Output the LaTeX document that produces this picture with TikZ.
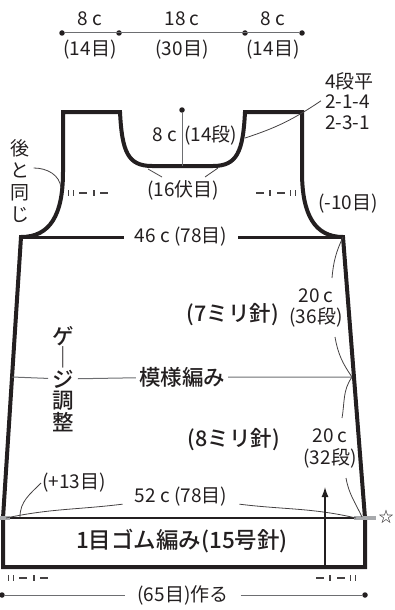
\documentclass[tikz,border=0pt]{standalone}
\usepackage{fontspec}
\setmainfont{Noto Sans CJK JP}[BoldFont = {Noto Sans CJK JP Medium}]
\usetikzlibrary{positioning, arrows.meta}

\definecolor{ink}{HTML}{231F20}
\definecolor{dimgray}{HTML}{6D6E71}
\definecolor{markgray}{HTML}{A7A9AC}

\tikzset{
	lbl/.style = {font = \fontsize{19}{21}\selectfont, inner sep = 1pt, text = ink},
	bold/.style = {font = \fontsize{21.5}{21.5}\selectfont\bfseries, inner sep = 2pt, text = ink},
	outline/.style = {line width = 4pt, ink, line join = miter},
	leader/.style = {line width = 0.8pt, ink!85},
	dimline/.style = {line width = 1pt, dimgray},
	dot/.style = {circle, fill = ink, inner sep = 0pt, minimum size = 5.5pt},
	tick/.style = {line width = 1.3pt, ink!85},
	marksL/.pic = {
		\foreach \t in {0.5, 5.5, 26} \draw [tick] (\t, -3) -- (\t, 3);
		\foreach \d in {11, 32} \draw [tick] (\d, 0) -- (\d + 8, 0);
	},
	marksR/.pic = {
		\foreach \t in {14, 34.5, 39.5} \draw [tick] (\t, -3) -- (\t, 3);
		\foreach \d in {0, 21} \draw [tick] (\d, 0) -- (\d + 8, 0);
	}
}

\begin{document}
\begin{tikzpicture}[> = {Latex[length = 10pt, width = 7pt]}, x = 1pt, y = -1pt]

	\useasboundingbox (0, 0) rectangle (394, 610);

	% Top widths

	\foreach \n/\x in {0/62, 1/119, 2/245, 3/302}
		\node [dot] (t\n) at (\x, 33) {};
	\draw [dimline] (t0) -- (t3);
	\foreach \x/\w/\s [count = \i] in {90/{8 c}/{(14目)}, 182/{18 c}/{(30目)}, 273/{8 c}/{(14目)}} {
		\node [lbl] (w\i) at (\x, 19) {\w};
		\node [lbl] (s\i) at (\x, 50) {\s};
	}

	% Outline points

	\coordinate (shL) at (63, 112);
	\coordinate (nkL) at (120, 112);
	\coordinate (nkR) at (245, 112);
	\coordinate (shR) at (302, 112);
	\coordinate (ahR) at (302, 172);
	\coordinate (cnR) at (343, 237);
	\coordinate (rbR) at (365, 518);
	\coordinate (hmR) at (365, 567);
	\coordinate (hmL) at (3, 567);
	\coordinate (rbL) at (3, 518);
	\coordinate (cnL) at (21, 237);
	\coordinate (ahL) at (63, 172);

	% Body

	\draw [outline] (shL) -- (nkL) .. controls (122, 152) and (128, 166) .. (152, 166) -- (213, 166)
		.. controls (237, 166) and (243, 152) .. (nkR) -- (shR) -- (ahR)
		.. controls (302, 215) and (315, 237) .. (cnR) -- (rbR) -- (hmR) -- (hmL) -- (rbL) -- (cnL)
		.. controls (50, 237) and (63, 215) .. (ahL) -- cycle;
	\draw [line width = 2.5pt, ink] (rbL) -- (rbR);
	\draw [line width = 4pt, markgray] (0, 518) -- (10, 518);
	\draw [line width = 4pt, markgray] (354, 518) -- (376, 518);
	\node [font = \fontsize{15}{15}\selectfont, text = ink, inner sep = 0pt] (star) at (386, 517) {☆};

	% Neck

	\node [dot] (nkDot) at (182, 110) {};
	\coordinate (nkBase) at (182, 166);
	\coordinate (nkMid) at (182, 135);
	\draw [dimline, line width = 0.8pt] (nkDot) -- (nkBase);
	\node [lbl, left = 4pt of nkMid] (nkCm) {8 c};
	\node [lbl, right = 1pt of nkMid] (nkRows) {(14段)};
	\node [lbl] (bind) at (183, 190) {(16伏目)};
	\coordinate (bo1) at (148, 169);
	\coordinate (bo1e) at (162, 177);
	\coordinate (bo2) at (218, 168);
	\coordinate (bo2e) at (205, 177);
	\draw [leader] (bo1) -- (bo1e);
	\draw [leader] (bo2) -- (bo2e);

	\node [lbl, align = left, anchor = north west, font = \fontsize{19}{20.5}\selectfont] (dec) at (324, 71) {4段平\\2-1-4\\2-3-1};
	\coordinate (nkPt) at (245, 138);
	\draw [leader] (nkPt) to [out = 18, in = -146] ([xshift = -3pt] dec.west);

	% Armholes

	\node [lbl, align = center, font = \fontsize{19}{22}\selectfont] (same) at (20, 181) {後\\と\\同\\じ};
	\coordinate (ahPt) at (61, 188);
	\draw [leader] ([shift = {(3pt, 13pt)}] same.east) to [out = 0, in = 95] (ahPt);
	\node [lbl] (dec10) at (348, 204) {(-10目)};
	\pic at (68, 193) {marksL};
	\pic at (256, 193) {marksR};

	\node [lbl, inner xsep = 11pt] (chest) at (181, 237) {46 c (78目)};
	\draw [line width = 3pt, ink] (cnL) -- (chest) -- (cnR);

	% Lengths

	\node [lbl, align = center] (len7) at (316, 308) {20 c\\(36段)};
	\node [lbl, align = center, font = \fontsize{19}{22}\selectfont] (len8) at (330, 448) {20 c\\(32段)};
	\coordinate (a1) at (332, 278);
	\coordinate (a2) at (335, 337);
	\coordinate (a3) at (342, 418);
	\coordinate (a4) at (346, 478);
	\coordinate (gR) at (352, 377);
	\coordinate (rbA) at (362, 517);
	\draw [leader] (a1) to [out = 85, in = -115] (cnR);
	\draw [leader] (a2) to [out = -80, in = 125] (gR);
	\draw [leader] (a3) to [out = 80, in = -125] (gR);
	\draw [leader] (a4) to [out = -80, in = 115] (rbA);

	% Pattern

	\coordinate (gL) at (12, 377);
	\node [bold, align = center, inner xsep = 4pt, inner ysep = 0pt] (gauge) at (63, 379) {ゲ\\｜\\ジ\\調\\整};
	\node [bold, inner xsep = 3pt] (pat) at (182, 377) {模様編み};
	\draw [dimline] (gL) -- (gauge) -- (pat) -- (gR);
	\node [bold] (n7) at (233, 315) {(7ミリ針)};
	\node [bold] (n8) at (234, 440) {(8ミリ針)};

	% Hem

	\node [lbl, inner xsep = 12pt] (hip) at (181, 497) {52 c (78目)};
	\coordinate (hpL) at (6, 518);
	\coordinate (hpR) at (356, 518);
	\draw [leader] (hpL) to [out = 12, in = 187] (hip);
	\draw [leader] (hip) to [out = -7, in = 167] (hpR);
	\node [lbl] (plus) at (74, 483) {(+13目)};
	\coordinate (p13) at (20, 517);
	\draw [leader] (plus.west) to [out = 225, in = 90] (p13);

	\node [bold, font = \fontsize{22.5}{22.5}\selectfont\bfseries] (rib) at (182, 541) {1目ゴム編み(15号針)};
	\coordinate (upB) at (325, 567);
	\coordinate (upT) at (325, 487);
	\draw [->, line width = 1.3pt, ink] (upB) -- (upT);

	% Cast on

	\pic at (8, 578) {marksL};
	\pic at (316, 578) {marksR};
	\node [dot] (bdL) at (2, 595) {};
	\node [dot] (bdR) at (365, 595) {};
	\node [lbl, inner xsep = 12pt] (cast) at (183, 595) {(65目)作る};
	\draw [dimline] (bdL) -- (cast) -- (bdR);

\end{tikzpicture}
\end{document}
